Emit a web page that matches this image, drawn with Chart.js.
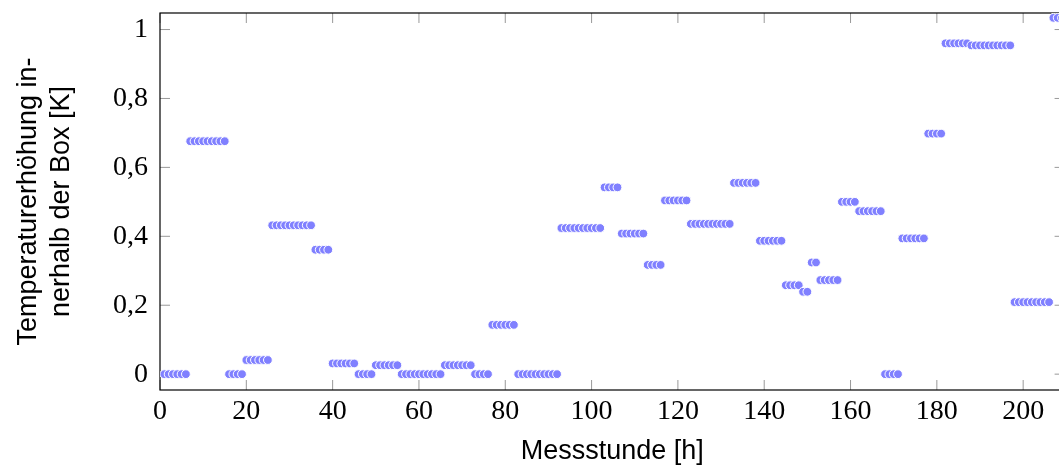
<!DOCTYPE html>
<html>
<head>
<meta charset="utf-8">
<script src="https://cdn.jsdelivr.net/npm/chart.js@4"></script>
<style>
  html, body { margin: 0; padding: 0; background: #fff; overflow: hidden; }
  #wrap { width: 1059px; height: 469px; overflow: hidden; }
</style>
</head>
<body>
<div id="wrap"><canvas id="grafica" width="1070" height="469"></canvas></div>
<script>
// Temperaturerhöhung je Messstunde (Stunde 1 .. 209)
const temperaturen = [
  0, 0, 0, 0, 0, 0,
  0.676, 0.676, 0.676, 0.676, 0.676, 0.676, 0.676, 0.676, 0.676,
  0, 0, 0, 0,
  0.041, 0.041, 0.041, 0.041, 0.041, 0.041,
  0.432, 0.432, 0.432, 0.432, 0.432, 0.432, 0.432, 0.432, 0.432, 0.432,
  0.361, 0.361, 0.361, 0.361,
  0.031, 0.031, 0.031, 0.031, 0.031, 0.031,
  0, 0, 0, 0,
  0.026, 0.026, 0.026, 0.026, 0.026, 0.026,
  0, 0, 0, 0, 0, 0, 0, 0, 0, 0,
  0.026, 0.026, 0.026, 0.026, 0.026, 0.026, 0.026,
  0, 0, 0, 0,
  0.143, 0.143, 0.143, 0.143, 0.143, 0.143,
  0, 0, 0, 0, 0, 0, 0, 0, 0, 0,
  0.424, 0.424, 0.424, 0.424, 0.424, 0.424, 0.424, 0.424, 0.424, 0.424,
  0.542, 0.542, 0.542, 0.542,
  0.408, 0.408, 0.408, 0.408, 0.408, 0.408,
  0.317, 0.317, 0.317, 0.317,
  0.504, 0.504, 0.504, 0.504, 0.504, 0.504,
  0.436, 0.436, 0.436, 0.436, 0.436, 0.436, 0.436, 0.436, 0.436, 0.436,
  0.555, 0.555, 0.555, 0.555, 0.555, 0.555,
  0.387, 0.387, 0.387, 0.387, 0.387, 0.387,
  0.258, 0.258, 0.258, 0.258,
  0.239, 0.239,
  0.324, 0.324,
  0.273, 0.273, 0.273, 0.273, 0.273,
  0.5, 0.5, 0.5, 0.5,
  0.473, 0.473, 0.473, 0.473, 0.473, 0.473,
  0, 0, 0, 0,
  0.394, 0.394, 0.394, 0.394, 0.394, 0.394,
  0.698, 0.698, 0.698, 0.698,
  0.96, 0.96, 0.96, 0.96, 0.96, 0.96,
  0.954, 0.954, 0.954, 0.954, 0.954, 0.954, 0.954, 0.954, 0.954, 0.954,
  0.209, 0.209, 0.209, 0.209, 0.209, 0.209, 0.209, 0.209, 0.209,
  1.034, 1.034, 1.034
];
const ersteStunde = 1;

const xTicks = [0, 20, 40, 60, 80, 100, 120, 140, 160, 180, 200];
const yTicks = [0, 0.2, 0.4, 0.6, 0.8, 1];

const xTitel = 'Messstunde [h]';
const yTitel = ['Temperaturerhöhung in-', 'nerhalb der Box [K]'];

let punkte = temperaturen.map((t, i) => ({ x: ersteStunde + i, y: t }));

// Rahmen und Striche nach innen (wie pgfplots)
const rahmen = {
  id: 'rahmen',
  beforeDatasetsDraw(chart) {
    const { ctx, chartArea: a, scales } = chart;
    ctx.save();
    ctx.strokeStyle = '#999';
    ctx.lineWidth = 1;
    const len = 10;
    xTicks.forEach(v => {
      const px = scales.x.getPixelForValue(v);
      ctx.beginPath();
      ctx.moveTo(px, a.bottom); ctx.lineTo(px, a.bottom - len);
      ctx.moveTo(px, a.top); ctx.lineTo(px, a.top + len);
      ctx.stroke();
    });
    yTicks.forEach(v => {
      const py = scales.y.getPixelForValue(v);
      ctx.beginPath();
      ctx.moveTo(a.left, py); ctx.lineTo(a.left + len, py);
      ctx.moveTo(a.right, py); ctx.lineTo(a.right - len, py);
      ctx.stroke();
    });
    ctx.strokeStyle = '#000';
    ctx.lineWidth = 1.2;
    ctx.strokeRect(a.left, a.top, a.right - a.left, a.bottom - a.top);
    ctx.restore();
  }
};

new Chart(document.getElementById('grafica'), {
  type: 'scatter',
  data: {
    datasets: [{
      data: punkte,
      backgroundColor: '#8080ff',
      borderColor: '#ffffff',
      borderWidth: 1,
      pointRadius: 4.4,
      pointHoverRadius: 4.4
    }]
  },
  options: {
    responsive: false,
    animation: false,
    devicePixelRatio: 1,
    layout: { padding: { left: 0, top: 13, right: 4, bottom: 0 } },
    plugins: { legend: { display: false }, tooltip: { enabled: false } },
    scales: {
      x: {
        type: 'linear',
        min: 0,
        max: 209.6,
        afterBuildTicks: s => { s.ticks = xTicks.map(v => ({ value: v })); },
        afterFit: s => { s.height = 79; s.paddingLeft = 0; s.paddingRight = 0; },
        grid: { display: false, drawTicks: false },
        border: { display: false },
        ticks: {
          color: '#000',
          padding: 5,
          maxRotation: 0,
          font: { family: 'Liberation Serif', size: 28 }
        },
        title: {
          display: true,
          text: xTitel,
          color: '#000',
          padding: { top: 0, bottom: 1 },
          font: { family: 'Liberation Sans', size: 27 }
        }
      },
      y: {
        type: 'linear',
        min: -0.046,
        max: 1.048,
        afterBuildTicks: s => { s.ticks = yTicks.map(v => ({ value: v })); },
        afterFit: s => { s.width = 160; s.paddingTop = 0; s.paddingBottom = 0; },
        grid: { display: false, drawTicks: false },
        border: { display: false },
        ticks: {
          color: '#000',
          padding: 12,
          font: { family: 'Liberation Serif', size: 28 },
          callback: v => String(Math.round(v * 10) / 10).replace('.', ',')
        },
        title: {
          display: true,
          text: yTitel,
          color: '#000',
          padding: { top: 12, bottom: 0 },
          font: { family: 'Liberation Sans', size: 27, lineHeight: 1.22 }
        }
      }
    }
  },
  plugins: [rahmen]
});
</script>
</body>
</html>
